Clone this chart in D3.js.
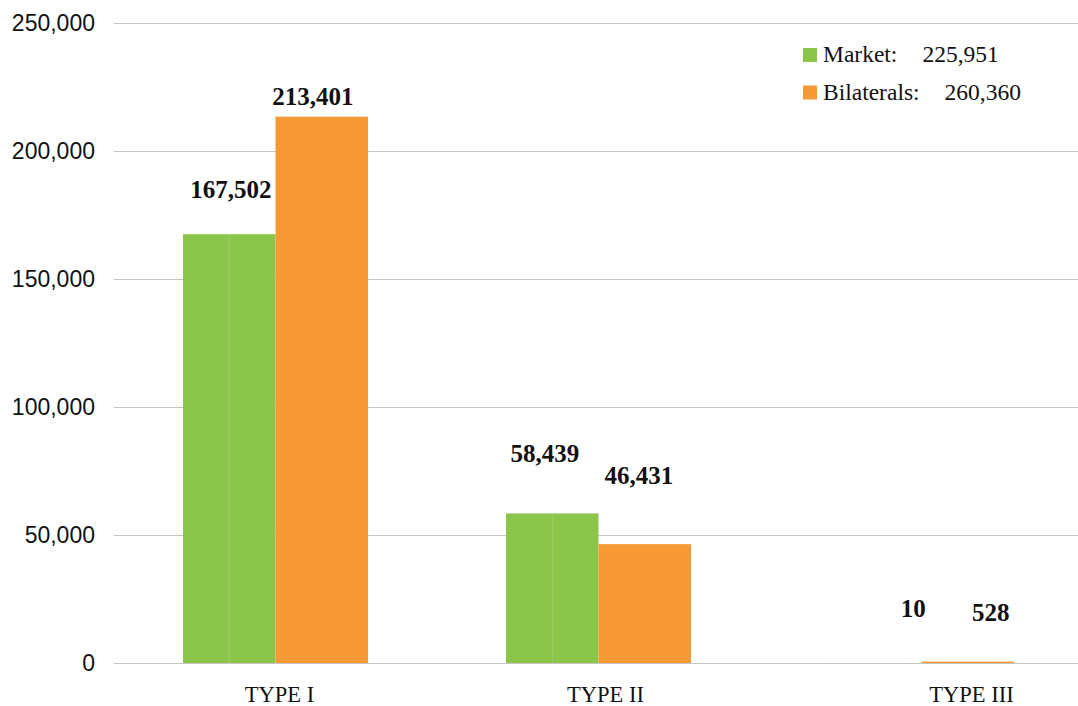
<!DOCTYPE html>
<html>
<head>
<meta charset="utf-8">
<script src="https://cdn.jsdelivr.net/npm/d3@7"></script>
<style>
  body { margin: 0; background: #fff; }
</style>
</head>
<body>
<div id="chart"></div>
<script>
// chart data
var categories = ["TYPE I", "TYPE II", "TYPE III"];
var seriesNames = ["Market", "Bilaterals"];
var market = [167502, 58439, 10];
var bilaterals = [213401, 46431, 528];
var seriesTotals = ["225,951", "260,360"];
var yTicks = [0, 50000, 100000, 150000, 200000, 250000];

var colors = ["#8bc54a", "#f79a35"];

// hand-placed value labels in the original (dx, dy from bar top)
var labelNudge = [
  [[1.5, -36], [-9, -12]],
  [[-7.5, -51], [-6, -60]],
  [[38, -46], [23, -41]]
];
// category labels are not quite centred either
var catNudge = [4, 7, 50];

var W = 1078, H = 706;
var margin = {top: 23, right: 0, bottom: 43, left: 114};
var width = W - margin.left - margin.right;
var height = H - margin.top - margin.bottom;

var svg = d3.select("#chart")
  .append("svg")
    .attr("width", W)
    .attr("height", H)
  .append("g")
    .attr("transform", "translate(" + margin.left + "," + margin.top + ")");

var x = d3.scaleBand()
    .domain(categories)
    .range([0, 969])
    .paddingInner(0)
    .paddingOuter(0);

var xs = d3.scaleBand()
    .domain(seriesNames)
    .range([x.bandwidth() / 2 - 92.5, x.bandwidth() / 2 + 92.5]);

var y = d3.scaleLinear()
    .domain([0, 250000])
    .range([height, 0]);

// grid lines
svg.append("g")
  .selectAll("line")
  .data(yTicks)
  .enter()
  .append("line")
    .attr("x1", 0)
    .attr("x2", width)
    .attr("y1", function(d) { return Math.round(y(d)) + 0.5; })
    .attr("y2", function(d) { return Math.round(y(d)) + 0.5; })
    .style("stroke", "#c4c4c4")
    .style("stroke-width", 1);

// y axis labels
var yAxis = svg.append("g")
    .call(d3.axisLeft(y).tickValues(yTicks).tickFormat(d3.format(",")).tickSize(0).tickPadding(19));
yAxis.select(".domain").remove();
yAxis.selectAll("text")
    .attr("dy", "0.34em")
    .style("font-family", "'Liberation Sans', Arial, sans-serif")
    .style("font-size", "23px")
    .style("fill", "#111");

// x axis labels
var xAxis = svg.append("g")
    .attr("transform", "translate(0," + height + ")")
    .call(d3.axisBottom(x).tickSize(0));
xAxis.select(".domain").remove();
xAxis.selectAll("text")
    .attr("x", function(d, i) { return catNudge[i]; })
    .attr("y", 39)
    .attr("dy", 0)
    .style("font-family", "'Liberation Serif', 'Times New Roman', serif")
    .style("font-size", "22.5px")
    .style("fill", "#111");

var series = [market, bilaterals];

var groups = svg.selectAll(".series")
  .data(series)
  .enter()
  .append("g")
    .attr("class", "series");

groups.each(function(vals, si) {
  var g = d3.select(this);
  g.selectAll("rect")
    .data(vals)
    .enter()
    .append("rect")
      .attr("x", function(d, i) { return x(categories[i]) + xs(seriesNames[si]); })
      .attr("y", function(d) { return y(d); })
      .attr("width", xs.bandwidth())
      .attr("height", function(d) { return height - y(d); })
      .style("fill", colors[si]);

  // faint seam in the green bars
  if (si === 0) {
    g.selectAll("line")
      .data(vals)
      .enter()
      .append("line")
        .attr("x1", function(d, i) { return x(categories[i]) + xs(seriesNames[si]) + xs.bandwidth() / 2; })
        .attr("x2", function(d, i) { return x(categories[i]) + xs(seriesNames[si]) + xs.bandwidth() / 2; })
        .attr("y1", function(d) { return y(d); })
        .attr("y2", height)
        .style("stroke", "#a6d47a")
        .style("stroke-width", 1)
        .style("opacity", 0.7);
  }

  g.selectAll("text")
    .data(vals)
    .enter()
    .append("text")
      .attr("x", function(d, i) {
        return x(categories[i]) + xs(seriesNames[si]) + xs.bandwidth() / 2 + labelNudge[i][si][0];
      })
      .attr("y", function(d, i) { return y(d) + labelNudge[i][si][1]; })
      .attr("text-anchor", "middle")
      .style("font-family", "'Liberation Serif', 'Times New Roman', serif")
      .style("font-weight", "bold")
      .style("font-size", "25px")
      .style("fill", "#111")
      .text(function(d) { return d3.format(",")(d); });
});

// legend
var legend = svg.append("g")
    .attr("transform", "translate(" + (803 - margin.left) + "," + (48 - margin.top) + ")");

seriesNames.forEach(function(name, i) {
  var row = legend.append("g").attr("transform", "translate(0," + (i * 37.5) + ")");
  row.append("rect")
      .attr("width", 14)
      .attr("height", 14)
      .style("fill", colors[i]);
  var t = row.append("text")
      .attr("x", 20)
      .attr("y", 14)
      .style("font-family", "'Liberation Serif', 'Times New Roman', serif")
      .style("font-size", "23.5px")
      .style("fill", "#111");
  t.append("tspan").text(name + ":");
  t.append("tspan").attr("dx", 25).text(seriesTotals[i]);
});
</script>
</body>
</html>
